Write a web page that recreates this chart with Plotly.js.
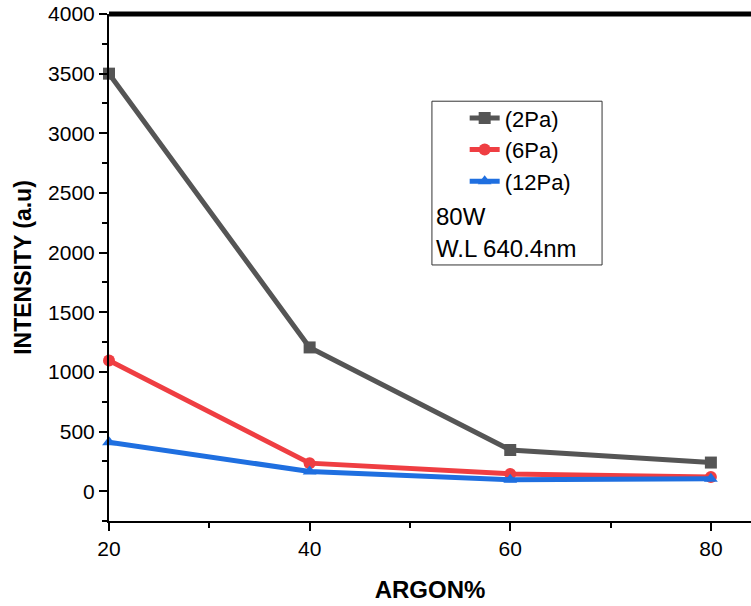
<!DOCTYPE html>
<html>
<head>
<meta charset="utf-8">
<script src="https://cdn.plot.ly/plotly-3.0.1.min.js"></script>
<style>html,body{margin:0;padding:0;background:#fff;}#chart{width:751px;height:606px;}</style>
</head>
<body>
<div id="chart"></div>
<script>
const argon = [20, 40, 60, 80];
const pa2 = [3500, 1205, 345, 240];
const pa6 = [1095, 235, 145, 118];
const pa12 = [410, 165, 95, 105];
const names = ['(2Pa)', '(6Pa)', '(12Pa)'];
const colors = ['#555555', '#ef3e42', '#1f6fe0'];
const symbols = ['square', 'circle', 'triangle-up'];
const series = [pa2, pa6, pa12];

const traces = series.map((s, i) => ({
  x: argon, y: s, name: names[i], type: 'scatter', mode: 'lines+markers',
  line: {color: colors[i], width: 5},
  marker: {color: colors[i], symbol: symbols[i], size: 12},
  cliponaxis: false
}));

const fam = 'Liberation Sans, Arial, sans-serif';
const layout = {
  width: 751, height: 606,
  margin: {l: 109, r: 0, t: 14, b: 85},
  paper_bgcolor: '#fff', plot_bgcolor: '#fff',
  font: {family: fam, color: '#000'},
  showlegend: true,
  legend: {x: 0.554, y: 0.836, xanchor: 'left', yanchor: 'top',
    font: {family: fam, size: 22, color: '#000'},
    bgcolor: 'rgba(0,0,0,0)', borderwidth: 0, tracegroupgap: 0},
  xaxis: {
    range: [20, 84], showgrid: false, zeroline: false,
    showline: true, linecolor: '#000', linewidth: 2,
    ticks: 'outside', ticklen: 8, tickwidth: 2, tickcolor: '#000',
    tickvals: argon, ticktext: argon.map(String),
    minor: {dtick: 10, tick0: 0, ticks: 'outside', ticklen: 5, tickwidth: 2, tickcolor: '#000'},
    tickfont: {family: fam, size: 21, color: '#000'},
    title: {text: '<b>ARGON%</b>', font: {family: fam, size: 24, color: '#000'}, standoff: 22}
  },
  yaxis: {
    range: [-250, 4000], showgrid: false, zeroline: false,
    showline: true, linecolor: '#000', linewidth: 2,
    ticks: 'outside', ticklen: 8, tickwidth: 2, tickcolor: '#000',
    dtick: 500, tick0: 0,
    minor: {dtick: 250, tick0: 0, ticks: 'outside', ticklen: 5, tickwidth: 2, tickcolor: '#000'},
    tickfont: {family: fam, size: 21, color: '#000'},
    title: {text: '<b>INTENSITY (a.u)</b>', font: {family: fam, size: 23, color: '#000'}, standoff: 10}
  },
  shapes: [
    {type: 'line', xref: 'paper', yref: 'paper', x0: 0, x1: 1, y0: 1, y1: 1, line: {color: '#000', width: 5}},
    {type: 'rect', xref: 'paper', yref: 'paper', x0: 0.503, x1: 0.768, y0: 0.505, y1: 0.828, line: {color: '#333', width: 1}}
  ],
  annotations: [
    {text: '80W', xref: 'paper', yref: 'paper', x: 0.506, y: 0.601, xanchor: 'left', yanchor: 'middle', showarrow: false, font: {family: fam, size: 24, color: '#000'}},
    {text: 'W.L 640.4nm', xref: 'paper', yref: 'paper', x: 0.506, y: 0.538, xanchor: 'left', yanchor: 'middle', showarrow: false, font: {family: fam, size: 24, color: '#000'}}
  ]
};
Plotly.newPlot('chart', traces, layout, {displayModeBar: false, staticPlot: true});
</script>
</body>
</html>
